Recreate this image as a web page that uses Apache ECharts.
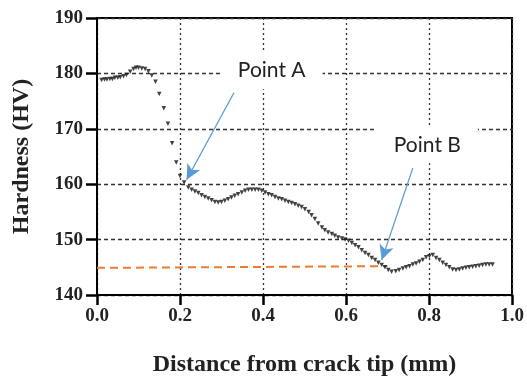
<!DOCTYPE html>
<html style="height: 100%">
<head>
<meta charset="utf-8">
<title>Hardness</title>
<script src="https://cdn.jsdelivr.net/npm/echarts@6/dist/echarts.min.js"></script>
</head>
<body style="height: 100%; margin: 0; background: #fff;">
<div id="container" style="width: 527px; height: 379px;"></div>
<script type="text/javascript">
// distance from crack tip (mm)
var distance = [0.011,0.018,0.024,0.031,0.037,0.043,0.050,0.056,0.064,0.071,0.080,0.088,0.094,0.100,0.108,0.116,0.124,0.132,0.141,0.150,0.161,0.171,0.181,0.191,0.200,0.210,
  0.220,0.228,0.236,0.244,0.252,0.260,0.268,0.276,0.284,0.292,0.300,0.308,0.316,0.324,0.332,0.340,0.349,0.357,0.365,0.373,0.381,0.389,0.397,0.405,0.413,0.421,0.429,0.437,0.445,0.453,0.461,0.469,0.477,0.485,
  0.493,0.501,0.510,0.517,0.525,0.533,0.542,0.549,0.557,0.566,0.573,0.581,0.590,0.598,0.606,0.614,0.622,0.630,0.638,0.646,0.654,0.662,0.670,0.678,0.686,0.694,0.702,0.710,
  0.720,0.728,0.737,0.745,0.753,0.761,0.769,0.777,0.785,0.793,0.801,0.809,0.817,0.825,0.833,0.841,0.849,0.857,0.865,0.873,0.881,0.889,0.897,0.905,0.913,0.921,0.929,0.937,0.945,0.953];
// hardness (HV)
var hardness = [178.8,178.9,178.9,179.0,179.0,179.2,179.2,179.3,179.5,179.7,180.3,180.8,181.0,181.0,180.9,180.8,180.4,179.6,178.5,176.3,173.7,170.9,167.4,163.9,161.5,160.3,
  159.4,159.0,158.7,158.4,158.0,157.7,157.4,157.1,156.8,156.7,156.8,157.0,157.3,157.6,157.9,158.2,158.5,158.8,159.0,159.0,159.0,159.0,158.8,158.5,158.2,158.0,157.7,157.4,157.3,157.0,156.8,156.6,156.4,156.1,
  155.9,155.5,155.0,154.4,153.7,152.9,152.2,151.7,151.3,151.0,150.7,150.4,150.2,150.0,149.8,149.4,149.0,148.6,148.1,147.6,147.2,146.7,146.3,145.8,145.4,145.0,144.5,144.2,
  144.3,144.5,144.8,145.0,145.2,145.5,145.7,146.0,146.3,146.8,147.0,147.2,146.7,146.3,145.8,145.4,145.0,144.6,144.5,144.6,144.8,144.9,145.0,145.1,145.2,145.3,145.4,145.5,145.5,145.5];
// orange reference level
var refX = [0, 0.70];
var refY = [144.9, 145.2];
// annotations
var labelNames = ['Point A', 'Point B'];
var labelPos = [[0.421, 180.5], [0.796, 167.1]];
var arrowFrom = [[0.330, 176.5], [0.761, 162.9]];
var arrowTo = [[0.216, 160.8], [0.686, 146.3]];

var pts = [];
for (var i = 0; i < distance.length; i++) pts.push([distance[i], hardness[i]]);
var refPts = [];
for (var j = 0; j < refX.length; j++) refPts.push([refX[j], refY[j]]);

var serifFont = '"Liberation Serif", "DejaVu Serif", serif';
var chart = echarts.init(document.getElementById('container'));
var option = {
  animation: false,
  grid: {left: 97, right: 15, top: 18, bottom: 84, show: true, borderColor: '#000', borderWidth: 2,
    outerBoundsMode: 'none', containLabel: false},
  xAxis: {
    type: 'value', min: 0, max: 1, interval: 0.2,
    name: 'Distance from crack tip (mm)', nameLocation: 'middle', nameGap: 58,
    nameTextStyle: {fontFamily: serifFont, fontWeight: 'bold', fontSize: 24, color: '#222'},
    axisLine: {lineStyle: {color: '#000', width: 2}},
    axisTick: {length: 10, lineStyle: {color: '#000', width: 2.5}},
    axisLabel: {fontFamily: serifFont, fontWeight: 'bold', fontSize: 19, color: '#222', margin: 12,
      formatter: function (v) { return v.toFixed(1); }},
    splitLine: {show: true, lineStyle: {color: '#333', width: 1.3, type: [2, 3]}}
  },
  yAxis: {
    type: 'value', min: 140, max: 190, interval: 10,
    name: 'Hardness (HV)', nameLocation: 'middle', nameGap: 63, nameRotate: 90,
    nameTextStyle: {fontFamily: serifFont, fontWeight: 'bold', fontSize: 24, color: '#222'},
    axisLine: {lineStyle: {color: '#000', width: 2}},
    axisTick: {length: 11, lineStyle: {color: '#000', width: 2.5}},
    axisLabel: {fontFamily: serifFont, fontWeight: 'bold', fontSize: 19, color: '#222', margin: 14},
    splitLine: {show: true, lineStyle: {color: '#333', width: 1.3, type: [4, 3]}}
  },
  series: [
    {
      type: 'line', data: refPts, symbol: 'none', z: 2,
      lineStyle: {color: '#ED7D31', width: 2, type: [8, 5]}
    },
    {
      type: 'scatter', data: pts, symbol: 'triangle', symbolRotate: 180, symbolSize: 4.5, z: 3,
      itemStyle: {color: '#111'},
      markLine: {
        silent: true, symbol: ['none', 'arrow'], symbolSize: [11, 15],
        lineStyle: {color: '#5B9BD5', width: 1.3, type: 'solid'},
        label: {show: false},
        data: arrowFrom.map(function (f, k) { return [{coord: f}, {coord: arrowTo[k]}]; })
      },
      markPoint: {
        silent: true, symbol: 'rect', symbolSize: 1,
        itemStyle: {color: 'rgba(0,0,0,0)'},
        label: {show: true, position: 'inside', fontFamily: 'Lato, "Noto Sans", sans-serif', fontSize: 21,
          color: '#222', backgroundColor: '#fff', padding: [8, 17]},
        data: labelNames.map(function (n, k) { return {name: n, coord: labelPos[k], value: n}; })
      }
    }
  ]
};
chart.setOption(option);
</script>
</body>
</html>
